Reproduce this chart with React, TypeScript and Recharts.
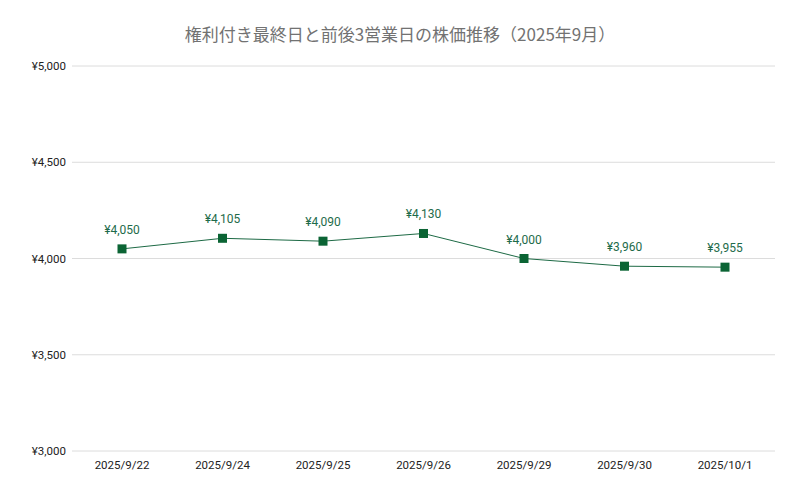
import { LineChart, Line, XAxis, YAxis, CartesianGrid, LabelList } from 'recharts';

const dates = ['2025/9/22', '2025/9/24', '2025/9/25', '2025/9/26', '2025/9/29', '2025/9/30', '2025/10/1'];
const prices = [4050, 4105, 4090, 4130, 4000, 3960, 3955];
const yTicks = [3000, 3500, 4000, 4500, 5000];

const data = dates.map((date, i) => ({ date, price: prices[i] }));

const yen = (v: number) => '¥' + v.toLocaleString('en-US');

const SquareDot = (props: any) => {
  const { cx, cy } = props;
  if (cx == null || cy == null) return null;
  return <rect x={cx - 4.5} y={cy - 4.5} width={9} height={9} fill="#0b6434" />;
};

export default function App() {
  return (
    <div style={{ position: 'fixed', top: 0, left: 0, width: 800, height: 494, background: '#fff', fontFamily: 'Roboto, "Noto Sans CJK JP", sans-serif' }}>
      <div
        style={{
          position: 'absolute',
          top: 24,
          left: 0,
          width: 800,
          textAlign: 'center',
          fontSize: 17,
          color: '#727272',
          fontFamily: '"Noto Sans CJK JP", Roboto, sans-serif',
          lineHeight: '20px',
        }}
      >
        権利付き最終日と前後3営業日の株価推移（2025年9月）
      </div>
      <LineChart width={800} height={494} data={data} margin={{ top: 66, right: 25, bottom: 0, left: 0 }}>
        <CartesianGrid vertical={false} stroke="#dcdcdc" />
        <XAxis
          dataKey="date"
          axisLine={false}
          tickLine={false}
          tick={{ fontSize: 11.5, fill: '#222' }}
          tickMargin={4}
          height={43}
          padding={{ left: 50, right: 50 }}
          interval={0}
        />
        <YAxis
          domain={[3000, 5000]}
          ticks={yTicks}
          tickFormatter={yen}
          axisLine={false}
          tickLine={false}
          tick={{ fontSize: 11.5, fill: '#222', dx: 2 }}
          width={72}
          tickMargin={2}
          interval={0}
        />
        <Line
          type="linear"
          dataKey="price"
          stroke="#1d6a45"
          strokeWidth={1}
          dot={<SquareDot />}
          activeDot={false}
          isAnimationActive={false}
        >
          <LabelList dataKey="price" position="top" offset={15} formatter={(v: any) => yen(Number(v))} style={{ fontSize: 12, fill: '#1e6b4a' }} />
        </Line>
      </LineChart>
    </div>
  );
}
